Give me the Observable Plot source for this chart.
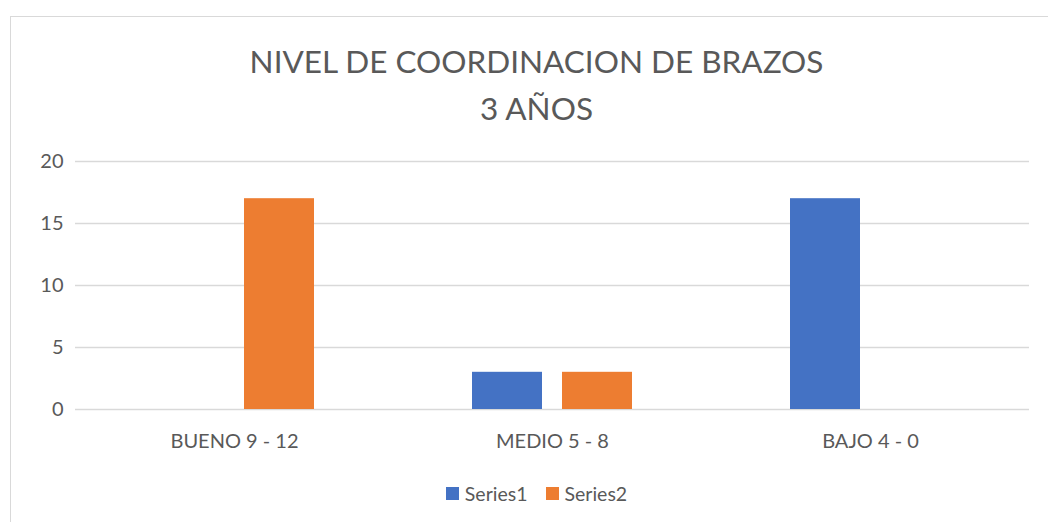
<!DOCTYPE html>
<html>
<head>
<meta charset="utf-8">
<script src="https://cdn.jsdelivr.net/npm/d3@7"></script>
<script src="https://cdn.jsdelivr.net/npm/@observablehq/plot@0.6"></script>
<style>
  html, body { margin: 0; padding: 0; background: #fff; }
  #wrap { position: relative; width: 1048px; height: 522px; overflow: hidden; font-family: Lato, "Open Sans", sans-serif; color: #595959; }
  #border { position: absolute; left: 10px; top: 16px; width: 1100px; height: 600px; border: 1.5px solid #d9d9d9; box-sizing: border-box; }
  #title { position: absolute; left: 0; width: 1073px; top: 38px; text-align: center; font-size: 31.5px; line-height: 47px; }
  #chart { position: absolute; left: 0; top: 0; }
  #legend { position: absolute; top: 482px; left: 0; width: 1073px; display: flex; justify-content: center; font-size: 19.5px; gap: 0; }
  .item { display: flex; align-items: center; margin: 0 9px; }
  .sw { width: 13px; height: 13px; margin-right: 6px; }
</style>
</head>
<body>
<div id="wrap">
  <div id="border"></div>
  <div id="title"></div>
  <div id="chart"></div>
  <div id="legend"></div>
</div>
<script>
const titleLines = ["NIVEL DE COORDINACION DE BRAZOS", "3 AÑOS"];
const categories = ["BUENO 9 - 12", "MEDIO 5 - 8", "BAJO 4 - 0"];
const seriesNames = ["Series1", "Series2"];
const series1 = [0, 3, 17];
const series2 = [17, 3, 0];
const colors = ["#4472C4", "#ED7D31"];
const yTicks = [0, 5, 10, 15, 20];

const data = [];
categories.forEach((c, i) => {
  data.push({cat: c, series: seriesNames[0], value: series1[i]});
  data.push({cat: c, series: seriesNames[1], value: series2[i]});
});

document.getElementById("title").innerHTML = titleLines.join("<br>");

const chart = Plot.plot({
  width: 1048,
  height: 522,
  marginLeft: 74,
  marginRight: 18,
  marginTop: 161,
  marginBottom: 113,
  style: {fontFamily: "Lato, 'Open Sans', sans-serif", fontSize: "20px", color: "#595959", background: "transparent", overflow: "visible"},
  fx: {domain: categories, padding: 0, label: null, axis: "bottom", tickSize: 0, tickPadding: 24},
  x: {domain: seriesNames, paddingInner: 0.22, paddingOuter: 0.861, axis: null},
  y: {domain: [0, 20], ticks: yTicks, tickSize: 0, tickPadding: 12, label: null},
  color: {domain: seriesNames, range: colors},
  marks: [
    Plot.ruleY(yTicks, {stroke: "#d9d9d9", strokeWidth: 1.5}),
    Plot.barY(data, {fx: "cat", x: "series", y: "value", fill: "series", insetLeft: 0, insetRight: 0})
  ]
});
chart.style.overflow = "visible";
document.getElementById("chart").appendChild(chart);

const legend = document.getElementById("legend");
seriesNames.forEach((s, i) => {
  const it = document.createElement("div");
  it.className = "item";
  it.innerHTML = `<span class="sw" style="background:${colors[i]}"></span><span>${s}</span>`;
  legend.appendChild(it);
});
</script>
</body>
</html>
